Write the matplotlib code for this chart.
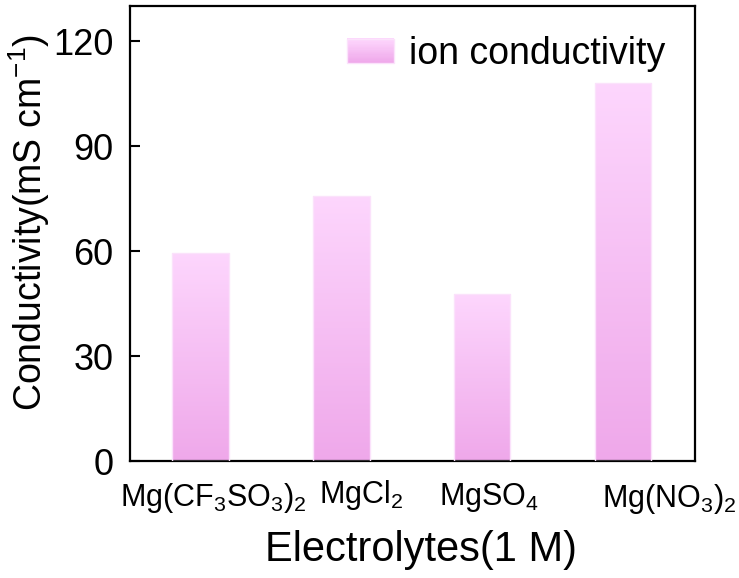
import numpy as np
import matplotlib
matplotlib.use("Agg")
import matplotlib.pyplot as plt
from matplotlib.colors import LinearSegmentedColormap
from matplotlib.patches import Rectangle
from matplotlib.legend_handler import HandlerBase

plt.rcParams['font.family'] = ['Liberation Sans', 'DejaVu Sans']
plt.rcParams['mathtext.fontset'] = 'custom'
plt.rcParams['mathtext.rm'] = 'Liberation Sans'
plt.rcParams['mathtext.it'] = 'Liberation Sans:italic'
plt.rcParams['mathtext.bf'] = 'Liberation Sans:bold'

# Data
electrolytes = ["Mg(CF$_3$SO$_3$)$_2$", "MgCl$_2$", "MgSO$_4$", "Mg(NO$_3$)$_2$"]
conductivity = [59.5, 75.8, 47.7, 107.9]
y_ticks = [0, 30, 60, 90, 120]
series_name = "ion conductivity"

# Styling
top_color = "#fdd6fd"
bottom_color = "#efa8ea"
edge_color = "#fbe2fb"
bar_width = 0.40
cmap = LinearSegmentedColormap.from_list("pinkfade", [bottom_color, top_color])
label_dx = [0.09, 0.14, 0.05, 0.33]      # horizontal nudge of category labels
label_y = [-0.099, -0.092, -0.097, -0.101]  # baseline in axes fraction

fig = plt.figure(figsize=(7.39, 5.78), dpi=100)
ax = fig.add_axes([0.176, 0.2024, 0.7645, 0.7872])

x = np.arange(len(electrolytes))
bars = ax.bar(x, conductivity, width=bar_width, color=bottom_color,
              edgecolor=edge_color, linewidth=1.0, zorder=2)

grad = np.linspace(0, 1, 256).reshape(-1, 1)
for b in bars:
    bx, by = b.get_x(), b.get_y()
    bw, bh = b.get_width(), b.get_height()
    im = ax.imshow(grad, extent=[bx, bx + bw, by, by + bh], origin="lower",
                   aspect="auto", cmap=cmap, zorder=2.5, interpolation="bilinear")
    im.set_clip_path(b)
    b.set_facecolor("none")
    b.set_zorder(3)

ax.set_xlim(-0.5, 3.51)
ax.set_ylim(0, 130)
ax.set_yticks(y_ticks)
ax.set_xticks([])

ax.tick_params(axis="y", direction="in", length=7, width=1.5,
               labelsize=26, pad=12)
for s in ax.spines.values():
    s.set_linewidth(1.6)

for i, lab in enumerate(electrolytes):
    ax.text(x[i] + label_dx[i], label_y[i], lab, transform=ax.get_xaxis_transform(),
            ha="center", va="baseline", fontsize=22)

ax.set_xlabel("Electrolytes(1 M)", fontsize=30, labelpad=50)
ax.xaxis.label.set_x(0.515)
ax.set_ylabel("Conductivity(mS cm$^{-1}$)", fontsize=27, labelpad=1)
ax.yaxis.label.set_y(0.525)


class GradientHandler(HandlerBase):
    def create_artists(self, legend, orig_handle, xdescent, ydescent,
                       width, height, fontsize, trans):
        n = 20
        arts = []
        for k in range(n):
            c = cmap(k / (n - 1))
            r = Rectangle((-xdescent, -ydescent + height * k / n), width,
                          height / n + 0.3, facecolor=c, edgecolor="none",
                          transform=trans)
            arts.append(r)
        frame = Rectangle((-xdescent, -ydescent), width, height,
                          facecolor="none", edgecolor=edge_color, lw=1.0,
                          transform=trans)
        arts.append(frame)
        return arts


proxy = Rectangle((0, 0), 1, 1)
ax.legend([proxy], [series_name], handler_map={Rectangle: GradientHandler()},
          loc="upper right", frameon=False, fontsize=27,
          handlelength=1.25, handleheight=0.62, handletextpad=0.4,
          borderaxespad=0.4)

fig.savefig("out.png", dpi=100)
